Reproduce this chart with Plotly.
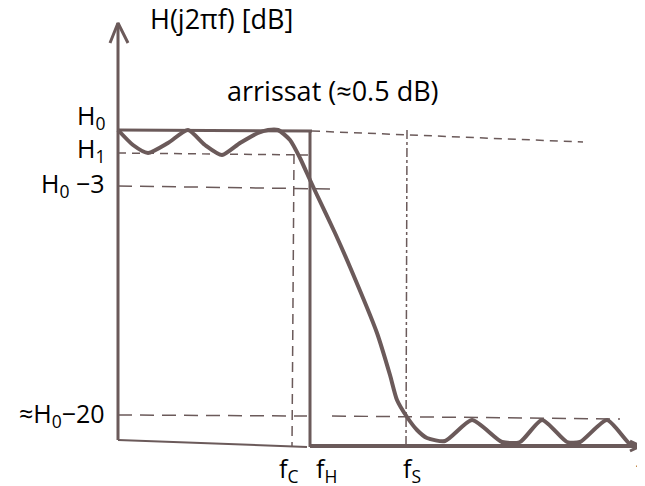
import plotly.graph_objects as go

# ---- schematic data (drawing units: frequency axis & level axis) ----
F_C, F_H, F_S, F_END = 175, 192, 289, 522
LEVEL_H0, LEVEL_H1, LEVEL_H0_3, LEVEL_H0_20 = 317, 293, 261, 31
AXIS_TOP = 424

curve_f = [0, 15, 30, 50, 70, 87, 104, 122, 140, 150, 160, 172, 182, 192, 199, 217, 232,
           259, 272, 279, 289, 299, 309, 327, 354, 384, 402, 424, 449, 462, 489, 512, 522]
curve_db = [317, 302, 294, 304, 317, 302, 292, 304, 314, 317, 317, 307, 289, 267, 252, 214, 180,
            114, 72, 47, 30, 17, 9, 6, 27, 5, 5, 27, 5, 5, 27, 3, 1]

level_labels = ["H<sub>0</sub>", "H<sub>1</sub>", "H<sub>0</sub> \u22123", "\u2248H<sub>0</sub>\u221220"]
level_label_pos = [331, 298, 263, 33]
freq_labels = ["f<sub>C</sub>", "f<sub>H</sub>", "f<sub>S</sub>"]
freq_label_pos = [F_C - 5, F_H + 16, F_S + 5]

INK = "#6b5a5a"
FONT = "Open Sans"

fig = go.Figure()

def seg(xs, ys, width=2, dash="solid", color=INK):
    fig.add_trace(go.Scatter(x=xs, y=ys, mode="lines",
                             line=dict(color=color, width=width, dash=dash),
                             hoverinfo="skip", showlegend=False))

# axes of the sketch
seg([0, 0], [7, AXIS_TOP], width=3)
seg([-8, 0, 10], [AXIS_TOP - 20, AXIS_TOP, AXIS_TOP - 20], width=3)
seg([0, F_H - 3], [7, 0], width=2)
seg([F_H, F_END], [1, 1], width=4)
seg([F_END - 10, F_END, F_END - 10], [6, 1, -4], width=3)

# ideal (tolerance) box
seg([0, F_H + 2], [LEVEL_H0, LEVEL_H0 - 1], width=3)
seg([F_H, F_H], [LEVEL_H0 - 1, 0], width=3)

# guide lines
seg([F_H + 2, 465], [LEVEL_H0 - 1, LEVEL_H0 - 12], width=1.5, dash="8px,6px")
seg([0, F_H], [LEVEL_H1 + 1, LEVEL_H1 - 1], width=1.5, dash="8px,6px")
seg([0, F_H + 22], [LEVEL_H0_3, LEVEL_H0_3 - 3], width=1.5, dash="14px,8px")
seg([0, F_H - 3], [LEVEL_H0_20 + 1, LEVEL_H0_20], width=1.5, dash="14px,8px")
seg([F_H + 22, 502], [LEVEL_H0_20, LEVEL_H0_20 - 3], width=1.5, dash="14px,8px")
seg([F_C + 1, F_C - 1], [LEVEL_H1, 0], width=1.5, dash="10px,6px")
seg([F_S, F_S - 1], [LEVEL_H0, 0], width=1.5, dash="dashdot")

# response curve
fig.add_trace(go.Scatter(x=curve_f, y=curve_db, mode="lines",
                         line=dict(color=INK, width=4, shape="spline", smoothing=0.6),
                         hoverinfo="skip", showlegend=False))

# labels
for lab, v in zip(level_labels, level_label_pos):
    fig.add_annotation(x=-11, y=v, text=lab, showarrow=False, xanchor="right",
                       yanchor="middle", font=dict(family=FONT, size=25, color="black"))
for lab, f in zip(freq_labels, freq_label_pos):
    fig.add_annotation(x=f, y=-22, text=lab, showarrow=False, xanchor="center",
                       yanchor="middle", font=dict(family=FONT, size=25, color="black"))
fig.add_annotation(x=F_END - 6, y=-22, text="f", showarrow=False, xanchor="left",
                   yanchor="middle", font=dict(family=FONT, size=25, color="black"))

fig.add_annotation(x=30, y=429, text="H(j2\u03c0f) [dB]", showarrow=False, xanchor="left",
                   yanchor="middle", font=dict(family=FONT, size=27, color="black"))
fig.add_annotation(x=107, y=357, text="arrissat (\u22480.5 dB)", showarrow=False, xanchor="left",
                   yanchor="middle", font=dict(family=FONT, size=27, color="black"))

# figure sized to fit inside the page's default 8px body margin
fig.update_layout(
    width=637, height=478,
    margin=dict(l=0, r=0, t=0, b=0),
    paper_bgcolor="white", plot_bgcolor="white",
    xaxis=dict(range=[-110, 527], visible=False, fixedrange=True),
    yaxis=dict(range=[-39, 439], visible=False, fixedrange=True),
)

fig.write_html("out.html")
